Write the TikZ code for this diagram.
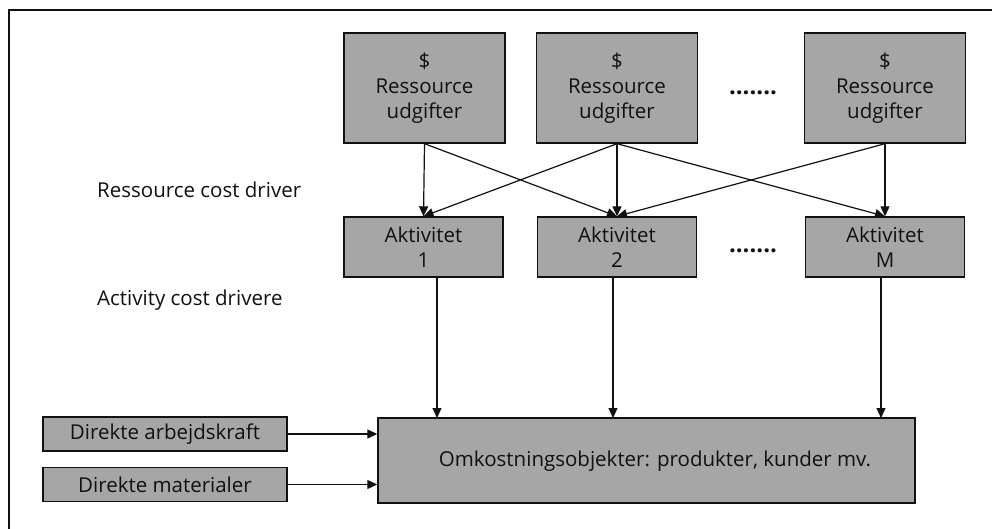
\documentclass[tikz,border=0pt]{standalone}
\usepackage{fontspec}
\setmainfont{Open Sans}
\usetikzlibrary{arrows.meta}
\definecolor{boxgray}{HTML}{A6A6A6}
\definecolor{ink}{HTML}{111111}
\tikzset{
  gbox/.style={draw=ink, line width=1.4pt, fill=boxgray, align=center, inner sep=0pt,
    font=\fontsize{20.5}{25}\selectfont, text=ink},
  resbox/.style={gbox, minimum width=161pt, minimum height=110pt},
  actbox/.style={gbox, minimum width=159pt, minimum height=60pt},
  dirbox/.style={gbox, minimum width=244pt, minimum height=34pt},
  lbl/.style={font=\fontsize{20.5}{25}\selectfont, text=ink, inner sep=0pt},
  arr/.style={draw=ink, line width=1.2pt, -{Triangle[length=10pt,width=9pt]}},
  dots/.style={font=\fontsize{24}{24}\selectfont\bfseries, text=ink, inner sep=0pt}
}
\begin{document}
\begin{tikzpicture}[x=1pt,y=-1pt]
\useasboundingbox (0,0) rectangle (992,529);
\fill[white] (0,0) rectangle (992,529);
\draw[ink, line width=2pt] (9,529) -- (9,10) -- (992,10);

\node[resbox] (r1) at (424.5,88) {\$\\Ressource\\udgifter};
\node[resbox] (r2) at (617,88) {\$\\Ressource\\udgifter};
\node[resbox] (r3) at (885,88) {\$\\Ressource\\udgifter};
\node[dots] (d1) at (753,93) {.......};

\node[actbox] (a1) at (423.5,247) {Aktivitet\\1};
\node[actbox] (a2) at (617,247) {Aktivitet\\2};
\node[actbox] (a3) at (885,247) {Aktivitet\\M};
\node[dots] (d2) at (753,251) {.......};

\node[lbl, anchor=west] (l1) at (97,190) {Ressource cost driver};
\node[lbl, anchor=west] (l2) at (97,300) {Activity cost drivere};

\node[gbox, minimum width=537pt, minimum height=85pt] (om) at (646.5,460.5) {};
\node[lbl] (omt) at (655,461) {Omkostningsobjekter: produkter, kunder mv.};

\node[dirbox] (da) at (165,434) {Direkte arbejdskraft};
\node[dirbox] (dm) at (165,484.5) {Direkte materialer};

\draw[arr] (r1.south) -- (a1.north);
\draw[arr] (r1.south) -- (a2.north);
\draw[arr] (r2.south) -- (a1.north);
\draw[arr] (r2.south) -- (a2.north);
\draw[arr] (r2.south) -- (a3.north);
\draw[arr] (r3.south) -- (a2.north);
\draw[arr] (r3.south) -- (a3.north);

\coordinate (o1) at (437,418);
\coordinate (o2) at (613,418);
\coordinate (o3) at (881,418);
\draw[arr] (a1.south -| o1) -- (o1);
\draw[arr] (a2.south -| o2) -- (o2);
\draw[arr] (a3.south -| o3) -- (o3);

\draw[arr] (da.east) -- (da.east -| om.west);
\draw[arr] (dm.east) -- (dm.east -| om.west);
\end{tikzpicture}
\end{document}
